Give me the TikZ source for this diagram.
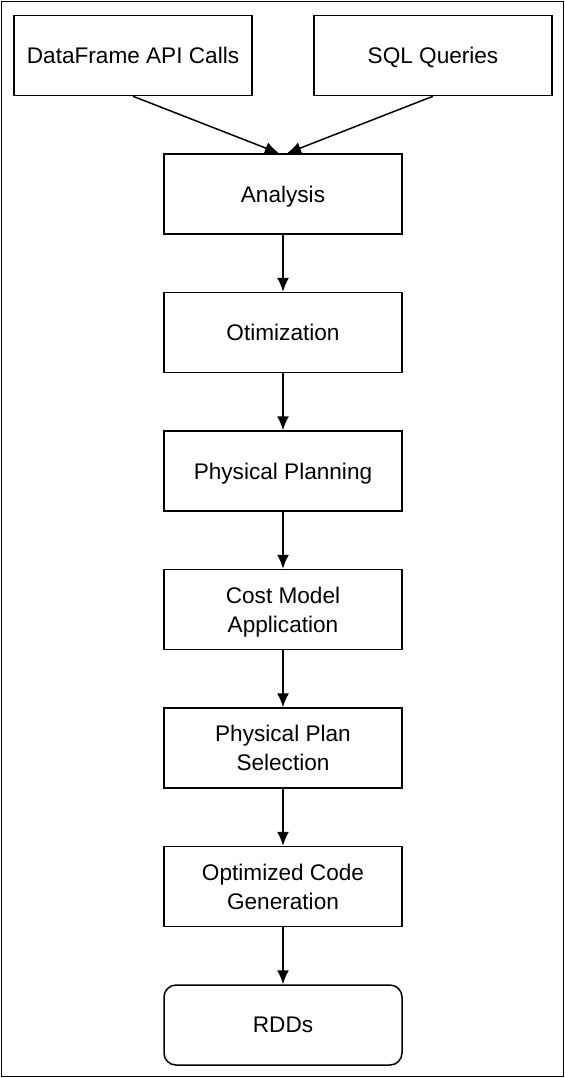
\documentclass[tikz,border=0pt]{standalone}
\usepackage{fontspec}
\setmainfont{Liberation Sans}
\usetikzlibrary{
  positioning,
  arrows.meta,
}
\tikzset{
  stage/.style={
    draw,
    black,
    line width=0.75pt,
    rectangle,
    minimum width=119pt,
    minimum height=40pt,
    align=center,
    text depth=0pt,
    inner sep=2pt
  },
  final stage/.style={
    stage,
    rounded corners=6pt
  },
  flow/.style={
    line width=0.75pt,
    -{Latex[length=7pt,width=6pt]}
  }
}

\begin{document}
\begin{tikzpicture}[font=\fontsize{11.3}{14.5}\selectfont, node distance=28.5pt]
  \useasboundingbox (0,0) rectangle (282.5pt,-539pt);
  \draw[line width=0.75pt] (0.8pt,-0.8pt) rectangle (281.7pt,-538.2pt);

  \node[stage] at (141.5pt,-97pt) (analysis) {Analysis};
  \node[stage, above=of analysis, xshift=-75pt] (dfapi) {DataFrame API Calls};
  \node[stage, above=of analysis, xshift=75pt]  (sql) {SQL Queries};
  \node[stage, below=of analysis] (optim) {Otimization};
  \node[stage, below=of optim]    (physplan) {Physical Planning};
  \node[stage, below=of physplan] (costmodel) {Cost Model\\Application};
  \node[stage, below=of costmodel] (selection) {Physical Plan\\Selection};
  \node[stage, below=of selection] (codegen) {Optimized Code\\Generation};
  \node[final stage, below=of codegen] (rdds) {RDDs};

  \draw[flow] (dfapi.south) -- ([xshift=-2pt]analysis.north);
  \draw[flow] (sql.south) -- ([xshift=2pt]analysis.north);
  \draw[flow] (analysis) -- (optim);
  \draw[flow] (optim) -- (physplan);
  \draw[flow] (physplan) -- (costmodel);
  \draw[flow] (costmodel) -- (selection);
  \draw[flow] (selection) -- (codegen);
  \draw[flow] (codegen) -- (rdds);
\end{tikzpicture}
\end{document}
